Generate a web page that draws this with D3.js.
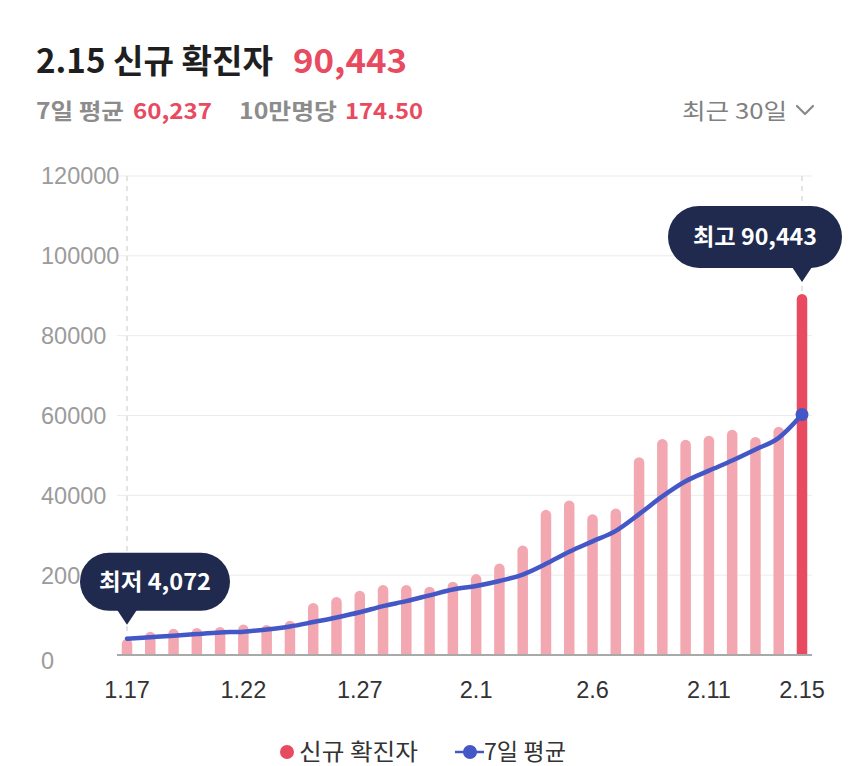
<!DOCTYPE html>
<html>
<head>
<meta charset="utf-8">
<script src="https://cdn.jsdelivr.net/npm/d3@7"></script>
<style>
  html, body { margin: 0; padding: 0; background: #ffffff; }
  svg { display: block; }
</style>
</head>
<body>
<svg id="chart" width="850" height="766"></svg>
<script>
// ---- data ----
const dates = ["1.17","1.18","1.19","1.20","1.21","1.22","1.23","1.24","1.25","1.26","1.27","1.28","1.29","1.30","1.31",
               "2.1","2.2","2.3","2.4","2.5","2.6","2.7","2.8","2.9","2.10","2.11","2.12","2.13","2.14","2.15"];
const newCases = [4072, 5805, 6603, 6769, 7009, 7630, 7513, 8571, 13012, 14518, 16096, 17542, 17528, 17079, 18342,
                  20270, 22907, 27443, 36362, 38691, 35286, 36719, 49567, 54122, 53926, 54941, 56431, 54619, 57177, 90443];
const avg7 = [4100, 4450, 4800, 5250, 5650, 5850, 6400, 7150, 8250, 9400, 10700, 12250, 13500, 14950, 16400,
              17300, 18540, 20160, 22850, 25870, 28470, 31100, 35280, 39740, 43530, 46180, 48710, 51480, 54400, 60237];
const yTicks = [0, 20000, 40000, 60000, 80000, 100000, 120000];
const xTickLabels = ["1.17","1.22","1.27","2.1","2.6","2.11","2.15"];
const minLabel = "최저 4,072";
const maxLabel = "최고 90,443";
const legendLabels = ["신규 확진자", "7일 평균"];

// ---- layout ----
const svg = d3.select("#chart");
const RED = "#e84a5f", PINK = "#f2a7b1", BLUE = "#4457c6", NAVY = "#1f2a4e";
const KR = "'Noto Sans CJK KR', 'Noto Sans', sans-serif";
const NUM = "'Liberation Sans', Arial, sans-serif";

const x = d3.scalePoint().domain(dates).range([127, 802]);
const y = d3.scaleLinear().domain([0, 120000]).range([655, 176]);
const gridX0 = 117, gridX1 = 812;

function fitText(sel, w) {
  return sel.attr("textLength", w).attr("lengthAdjust", "spacingAndGlyphs");
}

// ---- header ----
fitText(svg.append("text").attr("x", 36).attr("y", 73)
  .attr("font-family", KR).attr("font-weight", 700).attr("font-size", 33).attr("fill", "#1f1f1f")
  .text("2.15 신규 확진자"), 237);
fitText(svg.append("text").attr("x", 293).attr("y", 73)
  .attr("font-family", KR).attr("font-weight", 700).attr("font-size", 33).attr("fill", RED)
  .text("90,443"), 114);

const sub = [
  {t: "7일 평균", x: 36, w: 88, c: "#8c8c8c"},
  {t: "60,237", x: 133, w: 79, c: RED},
  {t: "10만명당", x: 239, w: 98, c: "#8c8c8c"},
  {t: "174.50", x: 345, w: 78, c: RED}
];
svg.selectAll("text.sub").data(sub).join("text").attr("class", "sub")
  .attr("x", d => d.x).attr("y", 119)
  .attr("font-family", KR).attr("font-weight", 700).attr("font-size", 22).attr("fill", d => d.c)
  .attr("textLength", d => d.w).attr("lengthAdjust", "spacingAndGlyphs")
  .text(d => d.t);

fitText(svg.append("text").attr("x", 682).attr("y", 119)
  .attr("font-family", KR).attr("font-weight", 400).attr("font-size", 22).attr("fill", "#808080")
  .text("최근 30일"), 105);
svg.append("path").attr("d", "M797,106 L805,114 L813,106")
  .attr("fill", "none").attr("stroke", "#888").attr("stroke-width", 2.2)
  .attr("stroke-linecap", "round").attr("stroke-linejoin", "round");

// ---- grid ----
const g = svg.append("g");
g.selectAll("line.grid").data(yTicks.filter(d => d > 0)).join("line").attr("class", "grid")
  .attr("x1", gridX0).attr("x2", gridX1).attr("y1", d => y(d)).attr("y2", d => y(d))
  .attr("stroke", "#ebebeb").attr("stroke-width", 1);

// dashed vertical guides at first and last day
g.selectAll("line.vguide").data([dates[0], dates[dates.length - 1]]).join("line").attr("class", "vguide")
  .attr("x1", d => x(d)).attr("x2", d => x(d)).attr("y1", y(120000)).attr("y2", y(0))
  .attr("stroke", "#dcdcdc").attr("stroke-width", 1.5).attr("stroke-dasharray", "5,5");

// y labels
g.selectAll("text.ylab").data(yTicks).join("text").attr("class", "ylab")
  .attr("x", 41).attr("y", d => y(d) + (d === 0 ? 6 : 0)).attr("dy", "0.36em")
  .attr("font-family", NUM).attr("font-size", 23.5).attr("fill", "#9b9b9b")
  .text(d => d);

// ---- bars ----
const bw = 10.5;
function barPath(cx, top, bottom, w) {
  const r = w / 2;
  const h = bottom - top;
  if (h <= r) return `M${cx - r},${bottom} L${cx - r},${top} L${cx + r},${top} L${cx + r},${bottom} Z`;
  return `M${cx - r},${bottom} L${cx - r},${top + r} A${r},${r} 0 0 1 ${cx + r},${top + r} L${cx + r},${bottom} Z`;
}
g.selectAll("path.bar").data(dates).join("path").attr("class", "bar")
  .attr("d", (d, i) => barPath(x(d), y(newCases[i]), y(0), bw))
  .attr("fill", (d, i) => i === dates.length - 1 ? RED : PINK);

// x axis baseline
g.append("line").attr("x1", gridX0).attr("x2", gridX1).attr("y1", y(0)).attr("y2", y(0))
  .attr("stroke", "#a9a9a9").attr("stroke-width", 2);

// x labels
g.selectAll("text.xlab").data(xTickLabels).join("text").attr("class", "xlab")
  .attr("x", d => x(d)).attr("y", 698).attr("text-anchor", "middle")
  .attr("font-family", NUM).attr("font-size", 23.5).attr("fill", "#333")
  .text(d => d);

// ---- 7-day average line ----
const line = d3.line().x((d, i) => x(dates[i])).y(d => y(d)).curve(d3.curveMonotoneX);
g.append("path").datum(avg7).attr("d", line)
  .attr("fill", "none").attr("stroke", BLUE).attr("stroke-width", 4.5)
  .attr("stroke-linejoin", "round").attr("stroke-linecap", "round");
g.append("circle").attr("cx", x(dates[dates.length - 1])).attr("cy", y(avg7[avg7.length - 1]))
  .attr("r", 6.5).attr("fill", BLUE);

// ---- tooltips ----
function tooltip(cx, tipY, label, w, h, boxCx, textW) {
  const tg = svg.append("g");
  const bottom = tipY - 14;
  const top = bottom - h;
  tg.append("rect").attr("x", boxCx - w / 2).attr("y", top).attr("width", w).attr("height", h)
    .attr("rx", h / 2).attr("ry", h / 2).attr("fill", NAVY);
  tg.append("path").attr("d", `M${cx - 10},${bottom - 1} L${cx},${tipY} L${cx + 10},${bottom - 1} Z`)
    .attr("fill", NAVY);
  fitText(tg.append("text").attr("x", boxCx - textW / 2).attr("y", top + h / 2).attr("dy", "0.36em")
    .attr("font-family", KR).attr("font-weight", 700).attr("font-size", 22.5).attr("fill", "#fff")
    .text(label), textW);
}
const iMin = newCases.indexOf(d3.min(newCases));
const iMax = newCases.indexOf(d3.max(newCases));
tooltip(x(dates[iMin]), y(newCases[iMin]) - 14, minLabel, 150, 58, 155, 112);
tooltip(x(dates[iMax]), y(newCases[iMax]) - 12, maxLabel, 174, 62, 755, 124);

// ---- legend ----
const lg = svg.append("g");
lg.append("circle").attr("cx", 287).attr("cy", 752).attr("r", 7).attr("fill", RED);
fitText(lg.append("text").attr("x", 299).attr("y", 760).attr("font-family", KR).attr("font-size", 22.5).attr("fill", "#333")
  .text(legendLabels[0]), 119);
lg.append("line").attr("x1", 455).attr("x2", 484).attr("y1", 752).attr("y2", 752)
  .attr("stroke", BLUE).attr("stroke-width", 2.5);
lg.append("circle").attr("cx", 470).attr("cy", 752).attr("r", 7).attr("fill", BLUE);
fitText(lg.append("text").attr("x", 484).attr("y", 760).attr("font-family", KR).attr("font-size", 22.5).attr("fill", "#333")
  .text(legendLabels[1]), 82);
</script>
</body>
</html>
